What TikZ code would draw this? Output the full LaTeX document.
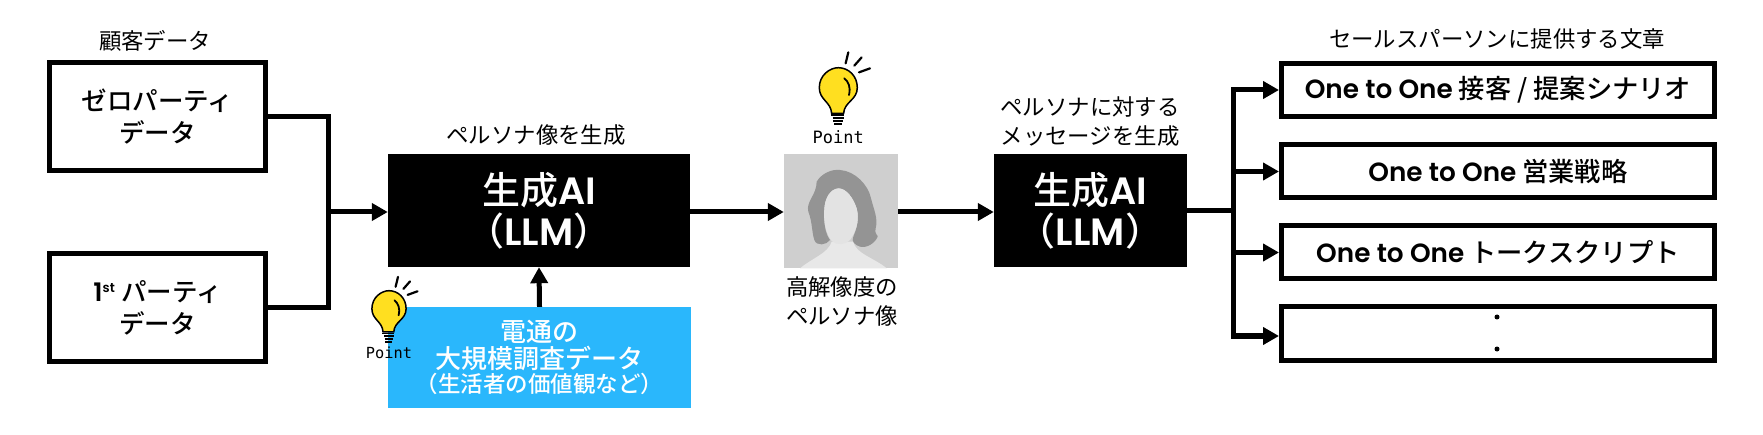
\documentclass[tikz,border=0pt]{standalone}
\usepackage{fontspec}
\setmainfont{Noto Sans CJK JP}[BoldFont={Noto Sans CJK JP Medium}]
\newfontfamily\latinf{Poppins Medium}[BoldFont={Poppins SemiBold}]
\newfontfamily\handf{DejaVu Sans Mono}
\usetikzlibrary{arrows.meta}
\definecolor{skyb}{HTML}{2AB7FC}
\definecolor{bulb}{HTML}{FFDF20}
\tikzset{
 px/.style={x=1pt,y=-1pt},
 wbox/.style={draw=black,line width=5pt,fill=white,align=center,font=\fontsize{25.5}{32}\selectfont\bfseries,inner sep=0pt},
 kbox/.style={fill=black,text=white,align=center,font=\fontsize{38}{41}\selectfont\bfseries,inner sep=0pt},
 lbl/.style={align=center,font=\fontsize{22.4}{29}\selectfont,inner sep=0pt},
 conn/.style={line width=5pt},
 arr/.style={line width=5pt,-{Triangle[length=16pt,width=17pt]}},
 rbox/.style={wbox,minimum width=433pt,minimum height=53pt,font=\fontsize{26.3}{32}\selectfont\bfseries},
}
\newcommand{\pointbulb}[5]{%
 \begin{scope}[shift={(#1,#2)},x=#3pt/3,y=-#3pt/3]
 \draw[black,line width=1.5pt,fill=bulb] (-20,65) .. controls (-22,30) and (-57,25) .. (-57,-12) .. controls (-57,-50) and (-25,-72) .. (0,-72) .. controls (30,-72) and (57,-48) .. (57,-12) .. controls (57,25) and (18,30) .. (16,65) -- cycle;
 \draw[black,line width=1.8pt] (-22,71)--(18,71) (-17,80)--(16,80) (-15,89)--(14,89) (-12,98)--(11,98);
 \draw[black,line width=1.8pt,line cap=round] (18,-40) .. controls (30,-30) and (38,-15) .. (32,10);
 \draw[black,line width=2.2pt,line cap=round] (22,-85)--(30,-118) (48,-78)--(70,-103) (62,-58)--(95,-70);
 \node[font=\handf\fontsize{#4}{#4}\selectfont,inner sep=0pt] (#5) at (0,135) {Point};
 \end{scope}}
\begin{document}
\begin{tikzpicture}[px]
\useasboundingbox (0,0) rectangle (1763,435);
\fill[white] (0,0) rectangle (1763,435);
% left boxes
\node[wbox,minimum width=216pt,minimum height=108pt] (zero) at (157.5,116.5) {ゼロパーティ\\データ};
\node[wbox,minimum width=216pt,minimum height=108pt] (first) at (157.5,307.5) {{\latinf 1}\textsuperscript{\latinf\fontsize{13}{13}\selectfont st} パーティ\\データ};
\node[lbl] (tcust) at (155,41) {顧客データ};
% LLM 1
\node[kbox,minimum width=302pt,minimum height=113pt] (llma) at (539,210.5) {生成{\latinf AI}\\（{\latinf LLM}）};
\node[lbl] (tpers) at (536,135) {ペルソナ像を生成};
\node[fill=skyb,text=white,align=center,inner sep=0pt,minimum width=303pt,minimum height=101pt,font=\bfseries] (dent) at (539.5,357.5) {\fontsize{26}{32}\selectfont 電通の\\[2pt]\fontsize{26}{32}\selectfont 大規模調査データ\\[1pt]\fontsize{22.5}{29}\selectfont （生活者の価値観など）};
% portrait
\node[fill=black!19,inner sep=0pt,minimum width=114pt,minimum height=114pt] (port) at (841,211) {};
\begin{scope}[shift={(775,45)},x=1pt/3,y=-1pt/3]
\fill[black!9] (75,670) .. controls (110,640) and (160,625) .. (170,590) -- (235,590) .. controls (240,625) and (300,640) .. (335,670) -- cycle;
\fill[black!42] (125,410) .. controls (140,385) and (170,372) .. (195,375) .. controls (240,378) and (280,420) .. (288,460) .. controls (295,490) and (310,520) .. (302,550) .. controls (298,570) and (310,570) .. (308,575) .. controls (300,595) and (275,610) .. (255,605) .. controls (240,600) and (228,590) .. (235,575) .. controls (245,550) and (255,520) .. (245,490) .. controls (235,460) and (215,430) .. (190,430) .. controls (165,432) and (150,460) .. (148,490) .. controls (145,530) and (150,565) .. (165,585) .. controls (155,600) and (125,605) .. (118,585) .. controls (110,560) and (112,530) .. (100,500) .. controls (92,470) and (125,450) .. (125,410) -- cycle;
\fill[black!11] (190,430) .. controls (215,430) and (235,460) .. (245,490) .. controls (255,530) and (240,565) .. (225,585) .. controls (212,600) and (185,602) .. (170,588) .. controls (152,565) and (145,530) .. (148,490) .. controls (150,460) and (165,432) .. (190,430) -- cycle;
\end{scope}
\node[lbl] (tport) at (842,301) {高解像度の\\ペルソナ像};
% LLM 2
\node[kbox,minimum width=193pt,minimum height=113pt] (llmb) at (1090.5,210.5) {生成{\latinf AI}\\（{\latinf LLM}）};
\node[lbl] (tmsg) at (1090,122) {ペルソナに対する\\メッセージを生成};
% right boxes
\node[lbl] (tsales) at (1497,39) {セールスパーソンに提供する文章};
\node[rbox] (r1) at (1498,90) {{\latinf One to One} 接客 / 提案シナリオ};
\node[rbox] (r2) at (1498,171.5) {{\latinf One to One} 営業戦略};
\node[rbox] (r3) at (1498,252.5) {{\latinf One to One} トークスクリプト};
\node[rbox,minimum height=54pt] (r4) at (1498,333.5) {};
\fill (1497,317) circle (2.5pt) (1497,349) circle (2.5pt);
% connectors
\coordinate (j1) at (328,212);
\draw[conn] (zero.east) -| (j1);
\draw[conn] (first.east) -| (j1);
\draw[arr] (j1) -- (j1 -| llma.west);
\draw[arr] (dent.north) -- (llma.south);
\draw[arr] (llma.east |- j1) -- (port.west |- j1);
\draw[arr] (port.east |- j1) -- (llmb.west |- j1);
\coordinate (j2) at (1233,211);
\draw[conn] (llmb.east |- j2) -- (j2);
\draw[arr] (j2) |- (r1.west);
\draw[arr] (j2) |- (r2.west);
\draw[arr] (j2) |- (r3.west);
\draw[arr] (j2) |- ([yshift=-2.5pt]r4.west);
% bulbs
\pointbulb{838.3}{91.7}{1}{17}{pta}
\pointbulb{389}{312.3}{0.9}{15.3}{ptb}
\end{tikzpicture}
\end{document}
